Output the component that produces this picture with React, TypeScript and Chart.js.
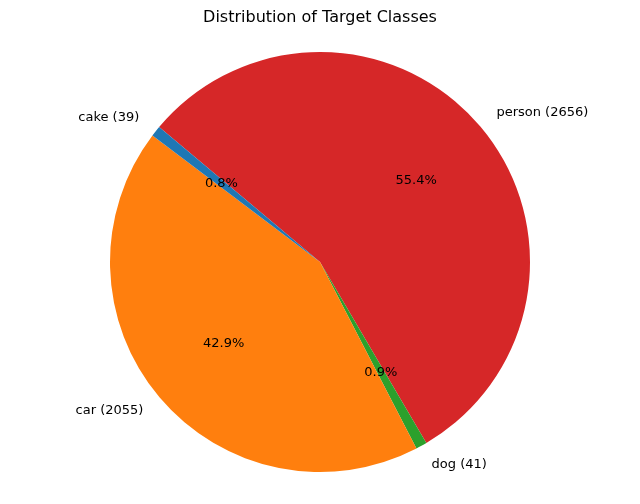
import { useEffect, useRef } from 'react';
import { Chart, registerables } from 'chart.js';

Chart.register(...registerables);

// matplotlib order: cake, car, dog, person (counter-clockwise from 140deg)
const classes = ['cake', 'car', 'dog', 'person'];
const counts = [39, 2055, 41, 2656];
const colors = ['#1f77b4', '#ff7f0e', '#2ca02c', '#d62728'];

const FONT = '"DejaVu Sans", sans-serif';

const labelPlugin = {
  id: 'pieLabels',
  afterDatasetsDraw(chart: any) {
    const { ctx } = chart;
    const meta = chart.getDatasetMeta(0);
    const total = counts.reduce((a, b) => a + b, 0);
    const labels: string[] = chart.data.labels;
    const data: number[] = chart.data.datasets[0].data;
    ctx.save();
    ctx.fillStyle = '#000';
    ctx.font = `13px ${FONT}`;
    ctx.textBaseline = 'middle';
    meta.data.forEach((arc: any, i: number) => {
      const mid = (arc.startAngle + arc.endAngle) / 2;
      const r = arc.outerRadius;
      const cx = Math.cos(mid);
      const cy = Math.sin(mid);
      const lx = arc.x + cx * r * 1.1;
      const ly = arc.y + cy * r * 1.1;
      ctx.textAlign = cx >= 0 ? 'left' : 'right';
      ctx.fillText(`${labels[i]} (${data[i]})`, lx, ly);
      ctx.textAlign = 'center';
      ctx.fillText(`${((data[i] / total) * 100).toFixed(1)}%`, arc.x + cx * r * 0.6, arc.y + cy * r * 0.6);
    });
    ctx.font = `16px ${FONT}`;
    ctx.textAlign = 'center';
    ctx.fillText('Distribution of Target Classes', chart.width / 2, 18);
    ctx.restore();
  },
};

const App = () => {
  const chartRef = useRef<HTMLCanvasElement | null>(null);

  useEffect(() => {
    document.body.style.margin = '0';
    const ctx = chartRef.current?.getContext('2d');
    if (!ctx) return;
    // Chart.js draws clockwise, so reverse to mimic matplotlib's counter-clockwise
    const labels = [...classes].reverse();
    const values = [...counts].reverse();
    const bg = [...colors].reverse();
    const myChart = new Chart(ctx, {
      type: 'pie',
      data: {
        labels,
        datasets: [{ data: values, backgroundColor: bg, borderWidth: 0 }],
      },
      options: {
        animation: false,
        responsive: true,
        maintainAspectRatio: false,
        rotation: -50,
        layout: { padding: { top: 52, bottom: 32, left: 0, right: 0 } },
        plugins: { legend: { display: false }, tooltip: { enabled: false } },
      },
      plugins: [labelPlugin],
    });
    return () => {
      myChart.destroy();
    };
  }, []);

  return (
    <div style={{ width: 640, height: 504, background: '#fff' }}>
      <canvas ref={chartRef} />
    </div>
  );
};

export default App;
